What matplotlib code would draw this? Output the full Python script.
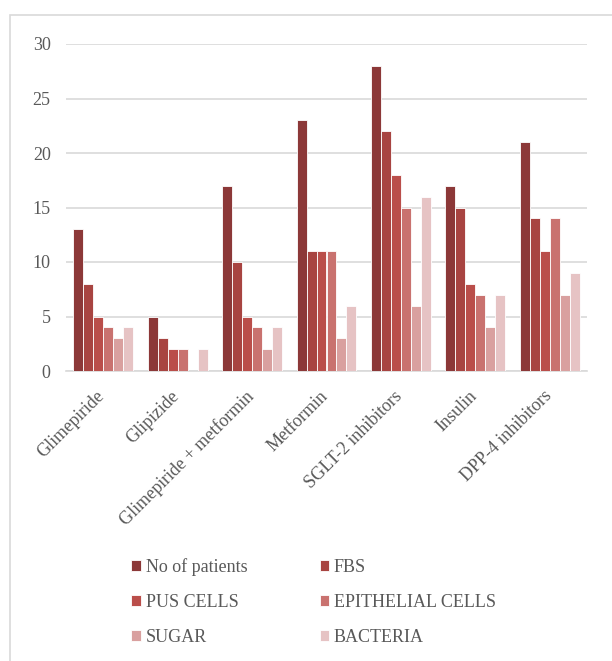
import numpy as np
import matplotlib
matplotlib.use("Agg")
import matplotlib.pyplot as plt
from matplotlib.patches import Rectangle
from matplotlib.transforms import ScaledTranslation

plt.rcParams['font.family'] = ['Liberation Serif', 'DejaVu Serif']

drugs = ["Glimepiride", "Glipizide", "Glimepiride + metformin", "Metformin",
         "SGLT-2 inhibitors", "Insulin", "DPP-4 inhibitors"]
series_names = ["No of patients", "FBS", "PUS CELLS", "EPITHELIAL CELLS",
                "SUGAR", "BACTERIA"]
no_of_patients = [13, 5, 17, 23, 28, 17, 21]
fbs = [8, 3, 10, 11, 22, 15, 14]
pus_cells = [5, 2, 5, 11, 18, 8, 11]
epithelial_cells = [4, 2, 4, 11, 15, 7, 14]
sugar = [3, 0, 2, 3, 6, 4, 7]
bacteria = [4, 2, 4, 6, 16, 7, 9]
series_values = [no_of_patients, fbs, pus_cells, epithelial_cells, sugar, bacteria]
colors = ["#8C3838", "#A84441", "#BA4E4A", "#C9726F", "#D9A09F", "#E6C3C4"]
y_ticks = [0, 5, 10, 15, 20, 25, 30]

fig = plt.figure(figsize=(6.12, 6.61), dpi=100)
ax = fig.add_axes([66 / 612, 1 - 371 / 661, (587 - 66) / 612, (371 - 44) / 661])

x = np.arange(len(drugs))
slot = 0.134
handles = []
for i, (name, vals, c) in enumerate(zip(series_names, series_values, colors)):
    offs = (i - 2.5) * slot
    b = ax.bar(x + offs, vals, width=slot, color=c, edgecolor="white",
               linewidth=0.6, label=name, zorder=3)
    handles.append(b)

ax.set_xlim(-0.5, len(drugs) - 0.5)
ax.set_ylim(0, 30)
ax.set_yticks(y_ticks)
ax.yaxis.grid(True, color="#d9d9d9", linewidth=1.2, zorder=0)
ax.set_axisbelow(True)
for s in ["top", "right", "left"]:
    ax.spines[s].set_visible(False)
ax.spines["bottom"].set_color("#d9d9d9")
ax.spines["bottom"].set_linewidth(1.2)
ax.tick_params(axis="both", length=0, colors="#595959", labelsize=13)
ax.tick_params(axis="y", pad=11)
ax.tick_params(axis="x", pad=9)
ax.set_xticks(x)
ax.set_xticklabels(drugs, rotation=45, ha="right", rotation_mode="anchor")
shift = ScaledTranslation(-7 / 100, -4 / 100, fig.dpi_scale_trans)
for lbl in ax.get_xticklabels():
    lbl.set_transform(lbl.get_transform() + shift)

# legend filled row by row (two columns)
order = [0, 2, 4, 1, 3, 5]
leg = fig.legend(handles=[handles[k] for k in order],
                 labels=[series_names[k] for k in order], ncol=2,
                 loc="upper left", bbox_to_anchor=(124 / 612, 1 - 551 / 661),
                 frameon=False, fontsize=13, handlelength=0.55,
                 handleheight=0.55, handletextpad=0.25, labelspacing=1.0,
                 columnspacing=4.0, labelcolor="#595959", borderaxespad=0)

# light chart-area border
fig.add_artist(Rectangle((10 / 612, -0.05), 1.2, 1 - 15 / 661 + 0.05,
                         transform=fig.transFigure, fill=False,
                         edgecolor="#d9d9d9", linewidth=1.2))

fig.savefig("out.png", dpi=100, facecolor="white")
